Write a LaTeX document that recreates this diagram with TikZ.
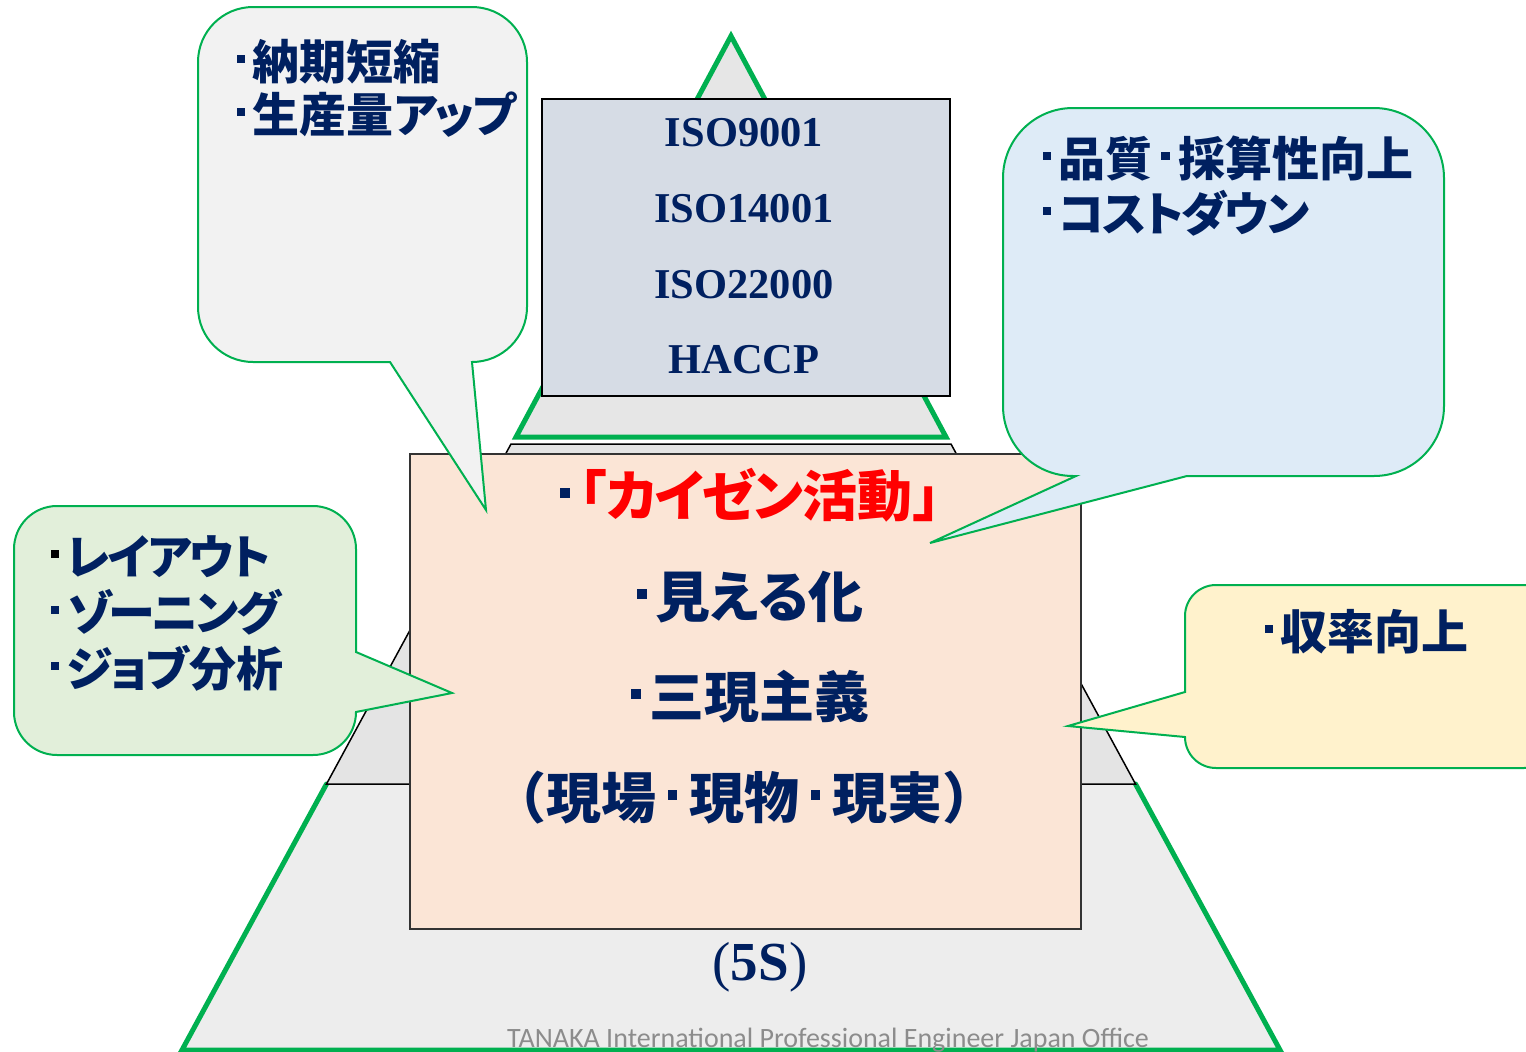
\documentclass[tikz,border=0pt]{standalone}
\usepackage{fontspec}
\setmainfont{Liberation Serif}
\newfontfamily\jp{Noto Sans CJK JP}[RawFeature=+palt]
\newfontfamily\jpf{Noto Sans CJK JP}
\newfontfamily\footfont{Carlito}
\newcommand\sqd[1]{\makebox[#1]{\raisebox{0.33em}{\rule{0.18em}{0.18em}}}}
\newcommand\kn[1]{{\addfontfeature{LetterSpace=-5}#1}}
\definecolor{navy}{HTML}{002060}
\definecolor{cgreen}{HTML}{00B050}
\definecolor{pinkfill}{HTML}{FBE5D6}
\definecolor{isofill}{HTML}{D6DCE5}
\definecolor{graylow}{HTML}{EDEDED}
\definecolor{graymid}{HTML}{E4E4E4}
\definecolor{graytop}{HTML}{E6E6E6}
\definecolor{cgray}{HTML}{F2F2F2}
\definecolor{cblue}{HTML}{DEEBF7}
\definecolor{cgreenfill}{HTML}{E2EFDA}
\definecolor{cyellow}{HTML}{FFF2CC}
\definecolor{boxline}{HTML}{333333}
\definecolor{footgray}{HTML}{8C8C8C}
\tikzset{
  callout/.style={draw=cgreen, line width=2pt, line join=miter},
  pyrgreen/.style={draw=cgreen, line width=5pt},
  jpline/.style={font=\jp\bfseries\fontsize{47}{55}\selectfont, text=navy, inner sep=0pt, anchor=base west},
  boxline/.style={font=\jp\bfseries\fontsize{55}{60}\selectfont, text=navy, inner sep=0pt, anchor=base},
  isoline/.style={font=\bfseries\fontsize{42.5}{50}\selectfont, text=navy, inner sep=0pt, anchor=base},
}
\begin{document}
\begin{tikzpicture}[x=1pt,y=1pt]
\useasboundingbox (0,0) rectangle (1526,-1052);
% bottom layer
\fill[graylow] (326.5,-784) -- (1135.5,-784) -- (1280,-1050) -- (182,-1050) -- cycle;
\draw[pyrgreen, line cap=round] (326.5,-784) -- (182,-1050) -- (1280,-1050) -- (1135.5,-784);
\draw[black, line width=1.5pt] (326.5,-784) -- (1135.5,-784);
% middle layer
\filldraw[fill=graymid, draw=black, line width=1.5pt] (511,-444) -- (951,-444) -- (1135.5,-784) -- (326.5,-784) -- cycle;
% top triangle
\filldraw[fill=graytop, pyrgreen, line join=miter] (731,-36) -- (946,-437) -- (516,-437) -- cycle;
% ISO box
\node[draw=black, line width=1.5pt, fill=isofill, minimum width=408pt, minimum height=297pt, inner sep=0pt, anchor=north west] (iso) at (541,-98) {};
\node[isoline] (iso1) at (744,-146) {ISO9001};
\node[isoline] (iso2) at (744,-222) {ISO14001};
\node[isoline] (iso3) at (744,-298) {ISO22000};
\node[isoline] (iso4) at (744,-373) {HACCP};
% pink box
\node[draw=boxline, line width=2pt, fill=pinkfill, minimum width=671pt, minimum height=475pt, inner sep=0pt, anchor=north west] (kaizen) at (409,-453) {};
% callouts
\draw[callout, fill=cgray] (253,-7) -- (472,-7) arc[start angle=90,end angle=0,radius=55] -- (527,-307) arc[start angle=0,end angle=-90,radius=55] -- (486,-510) -- (390,-362) -- (253,-362) arc[start angle=-90,end angle=-180,radius=55] -- (198,-62) arc[start angle=180,end angle=90,radius=55] -- cycle;
\draw[callout, fill=cblue] (1073,-108) -- (1374,-108) arc[start angle=90,end angle=0,radius=70] -- (1444,-406) arc[start angle=0,end angle=-90,radius=70] -- (1187,-476) -- (930,-543) -- (1076,-476) -- (1073,-476) arc[start angle=-90,end angle=-180,radius=70] -- (1003,-178) arc[start angle=180,end angle=90,radius=70] -- cycle;
\draw[callout, fill=cgreenfill] (57,-506) -- (313,-506) arc[start angle=90,end angle=0,radius=43] -- (356,-652) -- (452,-693) -- (356,-712) arc[start angle=0,end angle=-90,radius=43] -- (57,-755) arc[start angle=-90,end angle=-180,radius=43] -- (14,-549) arc[start angle=180,end angle=90,radius=43] -- cycle;
\draw[callout, fill=cyellow] (1216,-585) -- (1524,-585) arc[start angle=90,end angle=0,radius=31] -- (1555,-737) arc[start angle=0,end angle=-90,radius=31] -- (1216,-768) arc[start angle=-90,end angle=-180,radius=31] -- (1068,-726) -- (1185,-692) -- (1185,-616) arc[start angle=180,end angle=90,radius=31] -- cycle;
% callout texts
\node[jpline] (tl1) at (229,-79) {\sqd{0.5em}納期短縮};
\node[jpline] (tl2) at (229,-132) {\sqd{0.5em}生産量\kn{アップ}};
\node[jpline] (tr1) at (1035,-176) {\sqd{0.5em}品質\sqd{0.55em}採算性向上};
\node[jpline] (tr2) at (1035,-231) {\sqd{0.5em}\kn{コストダウン}};
\node[jpline] (l1) at (43,-574) {{\color{black}\sqd{0.5em}}\kn{レイアウト}};
\node[jpline] (l2) at (43,-630) {\sqd{0.5em}\kn{ゾーニング}};
\node[jpline] (l3) at (43,-686) {\sqd{0.5em}\kn{ジョブ}分析};
\node[jpline] (r1) at (1257,-649) {\sqd{0.5em}収率向上};
% box texts
\node[boxline] (p1) at (746,-516) {\sqd{0.5em}{\color{red}「\kn{カイゼン}活動」}};
\node[boxline] (p2) at (746,-617) {\sqd{0.5em}見える化};
\node[boxline] (p3) at (746,-717) {\sqd{0.5em}三現主義};
\node[boxline, font=\jpf\bfseries\fontsize{55}{60}\selectfont] (p4) at (744,-818) {（現場\sqd{0.6em}現物\sqd{0.6em}現実）};
% 5S
\node[inner sep=0pt, anchor=base, text=navy, font=\fontsize{55}{60}\selectfont] (fives) at (760,-980) {(\textbf{5S})};
% footer
\node[inner sep=0pt, anchor=base west, text=footgray, font=\footfont\fontsize{28}{32}\selectfont] (footer) at (507,-1047) {TANAKA International Professional Engineer Japan Office};
\end{tikzpicture}
\end{document}
